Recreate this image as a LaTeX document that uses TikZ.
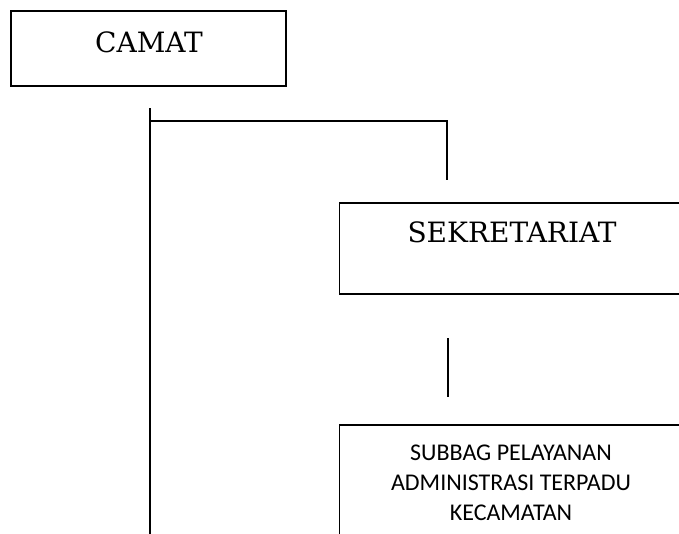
\documentclass[tikz,border=0pt]{standalone}
\usepackage{fontspec}
\newfontfamily\calibri{Carlito}
\newfontfamily\serifdv{DejaVu Serif}
\begin{document}
\begin{tikzpicture}[x=1pt,y=-1pt,
  box/.style={draw=black, line width=1.4pt, fill=none, inner sep=0pt},
  conn/.style={draw=black, line width=1.3pt},
  serifText/.style={anchor=base, inner sep=0pt, font=\serifdv\fontsize{28}{30}\selectfont},
  sansText/.style={anchor=base, inner sep=0pt, font=\calibri\fontsize{24}{30}\selectfont}]
\useasboundingbox (0,0) rectangle (679,533);
\clip (0,0) rectangle (679,533);
% boxes
\node[box, minimum width=275pt, minimum height=75pt] (camat) at (148.5,48.5) {};
\node[box, minimum width=343pt, minimum height=91pt] (sek) at (511,248.5) {};
\node[box, minimum width=343pt, minimum height=140pt] (subbag) at (511,495) {};
% texts
\node[serifText] (tcamat) at (149,52) {CAMAT};
\node[serifText] (tsek) at (512,242) {SEKRETARIAT};
\node[sansText] (ts1) at (511,460) {SUBBAG PELAYANAN};
\node[sansText] (ts2) at (511,490) {ADMINISTRASI TERPADU};
\node[sansText] (ts3) at (511,520) {KECAMATAN};
% connectors
\coordinate (vtop) at (150,108);
\coordinate (vbot) at (150,540);
\coordinate (hl) at (150,121);
\coordinate (hr) at (447,121);
\coordinate (hd) at (447,180);
\coordinate (m1) at (448,338);
\coordinate (m2) at (448,397);
\draw[conn] (vtop) -- (vbot);
\draw[conn] (hl) -- (hr) -- (hd);
\draw[conn] (m1) -- (m2);
\end{tikzpicture}
\end{document}
